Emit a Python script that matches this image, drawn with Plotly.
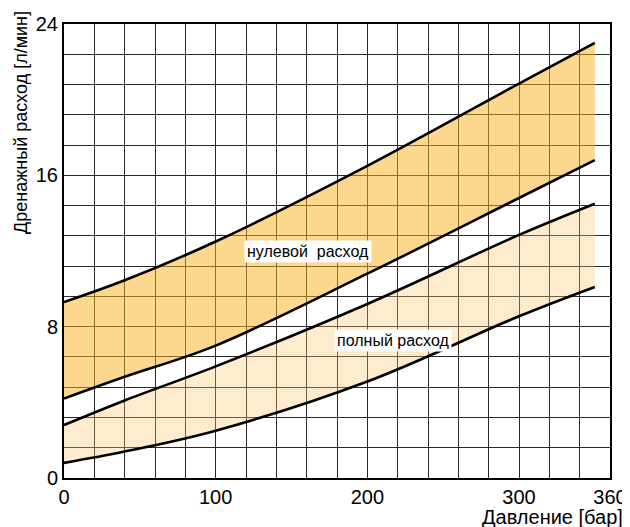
import plotly.graph_objects as go

# Data
pressure = [0, 40, 100, 200, 300, 350]
zero_flow_upper = [9.3, 10.45, 12.5, 16.5, 20.85, 23.0]
zero_flow_lower = [4.2, 5.35, 7.0, 10.8, 14.8, 16.8]
full_flow_upper = [2.8, 4.1, 5.9, 9.2, 12.85, 14.5]
full_flow_lower = [0.8, 1.4, 2.5, 5.1, 8.55, 10.1]

x_grid = list(range(0, 361, 20))
x_labels = {0: "0", 100: "100", 200: "200", 300: "300", 360: "360"}
y_grid = [round(i * 1.6, 2) for i in range(16)]
y_labels = {0.0: "0", 8.0: "8", 16.0: "16", 24.0: "24"}

dark_fill = "rgba(250,175,30,0.5)"
light_fill = "rgba(255,195,105,0.33)"
line_style = dict(color="black", width=2.6, shape="spline", smoothing=1.0)
font_family = "Liberation Sans, Arial"

fig = go.Figure()
fig.add_trace(go.Scatter(x=pressure, y=full_flow_lower, mode="lines", line=line_style, hoverinfo="skip"))
fig.add_trace(go.Scatter(x=pressure, y=full_flow_upper, mode="lines", line=line_style,
                         fill="tonexty", fillcolor=light_fill, hoverinfo="skip"))
fig.add_trace(go.Scatter(x=pressure, y=zero_flow_lower, mode="lines", line=line_style, hoverinfo="skip"))
fig.add_trace(go.Scatter(x=pressure, y=zero_flow_upper, mode="lines", line=line_style,
                         fill="tonexty", fillcolor=dark_fill, hoverinfo="skip"))

fig.add_annotation(x=161, y=12.0, text="нулевой  расход", showarrow=False,
                   font=dict(family=font_family, size=16, color="black"),
                   bgcolor="white", borderpad=2)
fig.add_annotation(x=217, y=7.25, text="полный расход", showarrow=False,
                   font=dict(family=font_family, size=16, color="black"),
                   bgcolor="white", borderpad=2)

fig.add_annotation(xref="paper", yref="paper", x=-0.079, y=0.784,
                   text="Дренажный расход [л/мин]", textangle=-90, showarrow=False,
                   xanchor="center", yanchor="middle",
                   font=dict(family=font_family, size=18, color="black"))
fig.add_annotation(xref="paper", yref="paper", x=1.0275, y=-0.086,
                   text="Давление [бар]", showarrow=False,
                   xanchor="right", yanchor="middle",
                   font=dict(family=font_family, size=20, color="black"))

fig.update_xaxes(range=[0, 360], tickmode="array", tickvals=x_grid,
                 ticktext=[x_labels.get(v, "") for v in x_grid], automargin=False,
                 showgrid=True, gridcolor="#2a2a2a", gridwidth=1, zeroline=False,
                 showline=True, linecolor="black", linewidth=2, mirror=True,
                 ticks="", tickfont=dict(family=font_family, size=20, color="black"))
fig.update_yaxes(range=[0, 24], tickmode="array", tickvals=y_grid,
                 ticktext=[y_labels.get(v, "") for v in y_grid], automargin=False,
                 showgrid=True, gridcolor="#2a2a2a", gridwidth=1, zeroline=False,
                 showline=True, linecolor="black", linewidth=2, mirror=True,
                 ticks="", tickfont=dict(family=font_family, size=20, color="black"))

fig.update_layout(width=622, height=519, margin=dict(l=56, r=20, t=16, b=49),
                  plot_bgcolor="white", paper_bgcolor="white", showlegend=False)

fig.write_html("out.html")
